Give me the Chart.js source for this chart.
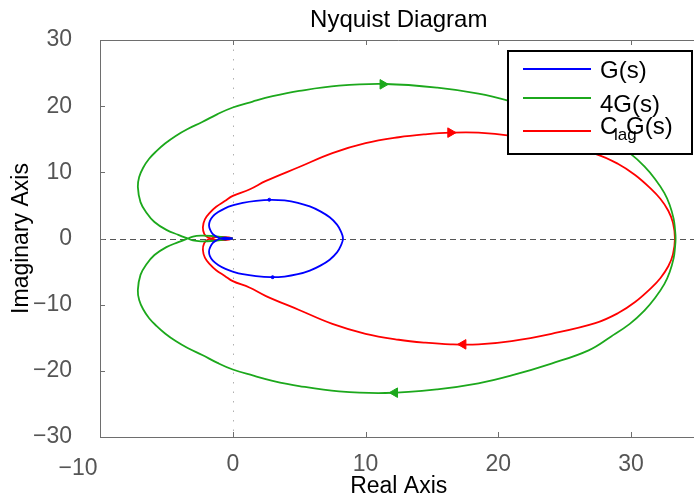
<!DOCTYPE html>
<html>
<head>
<meta charset="utf-8">
<script src="https://cdn.jsdelivr.net/npm/chart.js@4.4.1/dist/chart.umd.min.js"></script>
<style>
  html, body { margin: 0; padding: 0; background: #fff; overflow: hidden; }
  #wrap { width: 704px; height: 501px; }
</style>
</head>
<body>
<div id="wrap"><canvas id="nyq" width="704" height="501"></canvas></div>
<script>
// curves, listed in drawing order (closed loops)
const blueRe = [0, -0.4, -0.7, -0.93, -1.25, -1.5, -1.7, -1.79, -1.72, -1.5, -1.1, -0.55, 0, 0.75, 1.75, 2.85, 3.9, 4.9, 5.8, 6.6, 7.3, 7.85, 8.15, 8.3,
  8.15, 7.85, 7.3, 6.6, 5.8, 4.9, 3.9, 2.85, 1.75, 0.75, 0, -0.55, -1.1, -1.5, -1.72, -1.79, -1.7, -1.5, -1.25, -0.93, -0.7, -0.4, 0];
const blueIm = [0, -0.1, -0.1, 0, 0.3, 0.65, 1.3, 1.95, 2.65, 3.35, 4.0, 4.6, 5.0, 5.4, 5.7, 5.85, 5.75, 5.4, 4.85, 4.1, 3.2, 2.1, 1.05, 0,
  -1.05, -2.1, -3.2, -4.1, -4.85, -5.4, -5.75, -5.85, -5.7, -5.4, -5.0, -4.6, -4.0, -3.35, -2.65, -1.95, -1.3, -0.65, -0.3, 0, 0.1, 0.1, 0];

const greenRe = [0, -0.8, -1.6, -2.4, -3.0, -3.4, -4.1, -5.0, -5.9, -6.5, -6.95, -7.15, -7.05, -6.75, -6.3, -5.75, -5.1, -4.3, -3.4, -2.3, -1.15, 0, 1.5, 3, 5, 8, 11.5, 15.4, 18.5, 21, 24, 26.8, 28.5, 29.9, 31.0, 31.8, 32.5, 32.9, 33.2, 33.3, 33.35,
  33.3, 33.2, 32.9, 32.5, 31.8, 31.0, 29.9, 28.5, 26.8, 24, 21, 18.5, 15.4, 11.5, 8, 5, 3, 1.5, 0, -1.15, -2.3, -3.4, -4.3, -5.1, -5.75, -6.3, -6.75, -7.05, -7.15, -6.95, -6.5, -5.9, -5.0, -4.1, -3.4, -3.0, -2.4, -1.6, -0.8, 0];
const greenIm = [0, -0.2, -0.38, -0.42, -0.3, 0, 0.55, 1.3, 2.5, 3.9, 5.5, 7.8, 9.3, 10.7, 12.05, 13.2, 14.35, 15.5, 16.55, 17.6, 18.8, 19.8, 20.7, 21.5, 22.3, 23.1, 23.35, 22.8, 21.9, 20.7, 18.9, 16.9, 14.8, 12.9, 10.9, 9.0, 6.9, 5.1, 3.0, 1.5, 0,
  -1.5, -3.0, -5.1, -6.9, -9.0, -10.9, -12.9, -14.8, -16.9, -18.9, -20.7, -21.9, -22.8, -23.35, -23.1, -22.3, -21.5, -20.7, -19.8, -18.8, -17.6, -16.55, -15.5, -14.35, -13.2, -12.05, -10.7, -9.3, -7.8, -5.5, -3.9, -2.5, -1.3, -0.55, 0, 0.3, 0.42, 0.38, 0.2, 0];

const redRe = [0, -0.3, -0.8, -1.3, -1.6, -1.9, -2.15, -2.25, -2.1, -1.7, -1.25, -0.6, 0, 1.25, 2.5, 5, 7.5, 10, 12.5, 14.5, 16.4, 18.5, 21, 24, 27.3, 29.0, 30.3, 31.5, 32.2, 32.8, 33.15, 33.3,
  33.15, 32.8, 32.2, 31.5, 30.3, 29.0, 27.3, 24, 21, 18.5, 16.4, 14.5, 12.5, 10, 7.5, 5, 2.5, 1.25, 0, -0.6, -1.25, -1.7, -2.1, -2.25, -2.15, -1.9, -1.6, -1.3, -0.8, -0.3, 0];
const redIm = [0, -0.15, -0.25, -0.2, 0, 0.2, 0.7, 1.7, 2.9, 3.95, 4.8, 5.65, 6.45, 7.4, 8.7, 10.8, 12.9, 14.4, 15.3, 15.75, 16.0, 16.0, 15.5, 14.4, 12.8, 11.3, 9.6, 7.5, 6.0, 4.2, 2.4, 0,
  -2.4, -4.2, -6.0, -7.5, -9.6, -11.3, -12.8, -14.4, -15.5, -16.0, -16.0, -15.75, -15.3, -14.4, -12.9, -10.8, -8.7, -7.4, -6.45, -5.65, -4.8, -3.95, -2.9, -1.7, -0.7, -0.2, 0, 0.2, 0.25, 0.15, 0];

// direction arrows
const greenArrowRe = [11.3, 12.2];
const greenArrowIm = [23.3, -23.3];
const redArrowRe = [16.4, 17.35];
const redArrowIm = [16.0, -16.0];
const blueArrowRe = [2.75, 3.0];
const blueArrowIm = [5.86, -5.84];
const arrowTurn = [90, -90];

const xTicks = [-10, 0, 10, 20, 30];
const yTicks = [-30, -20, -10, 0, 10, 20, 30];
const legendLabels = ["G(s)", "4G(s)", "C", "lag", "G(s)"];

const FONT = '"Liberation Sans", Arial, sans-serif';
const GREEN = "#1ca81c";
const pts = (re, im) => re.map((x, i) => ({ x: x, y: im[i] }));
const minus = v => String(v).replace("-", "\u2212");

const curve = (label, re, im, color) => ({
  label: label,
  data: pts(re, im),
  borderColor: color,
  borderWidth: 1.8,
  pointRadius: 0,
  tension: 0.4,
  fill: false
});

const arrows = (re, im, color, style, r) => ({
  data: pts(re, im),
  showLine: false,
  pointStyle: style,
  pointRadius: r,
  pointRotation: arrowTurn,
  backgroundColor: color,
  borderColor: color,
  borderWidth: 1
});

// reference lines, inward ticks, top border, corner label, title, legend
const decor = {
  id: "decor",
  beforeDatasetsDraw(chart) {
    const { ctx, chartArea: a, scales: { x, y } } = chart;
    ctx.save();
    ctx.lineWidth = 1;
    ctx.strokeStyle = "#b0b0b0";
    ctx.setLineDash([1.5, 8]);
    ctx.beginPath();
    ctx.moveTo(Math.round(x.getPixelForValue(0)) + 0.5, a.top);
    ctx.lineTo(Math.round(x.getPixelForValue(0)) + 0.5, a.bottom);
    ctx.stroke();
    ctx.strokeStyle = "#555";
    ctx.setLineDash([6, 4]);
    ctx.beginPath();
    ctx.moveTo(a.left, Math.round(y.getPixelForValue(0)) + 0.5);
    ctx.lineTo(a.right, Math.round(y.getPixelForValue(0)) + 0.5);
    ctx.stroke();
    ctx.restore();
  },
  afterDraw(chart) {
    const { ctx, chartArea: a, scales: { x, y } } = chart;
    ctx.save();
    ctx.strokeStyle = "#6e6e6e";
    ctx.lineWidth = 1;
    ctx.beginPath();
    ctx.moveTo(a.left, a.top + 0.5);
    ctx.lineTo(a.right, a.top + 0.5);
    xTicks.forEach(v => {
      const px = Math.round(x.getPixelForValue(v)) + 0.5;
      ctx.moveTo(px, a.bottom); ctx.lineTo(px, a.bottom - 5);
      ctx.moveTo(px, a.top); ctx.lineTo(px, a.top + 5);
    });
    yTicks.forEach(v => {
      const py = Math.round(y.getPixelForValue(v)) + 0.5;
      ctx.moveTo(a.left, py); ctx.lineTo(a.left + 5, py);
    });
    ctx.stroke();

    ctx.fillStyle = "#555";
    ctx.font = "23px " + FONT;
    ctx.textAlign = "center";
    ctx.textBaseline = "alphabetic";
    ctx.fillText(minus(xTicks[0]), a.left - 22, 475);

    ctx.fillStyle = "#000";
    ctx.font = "24px " + FONT;
    ctx.fillText("Nyquist Diagram", (a.left + a.right) / 2, 27);

    // legend
    const lx = 508, ly = 51, lw = 184, lh = 103;
    ctx.fillStyle = "#fff";
    ctx.fillRect(lx, ly, lw, lh);
    ctx.strokeStyle = "#000";
    ctx.lineWidth = 2;
    ctx.strokeRect(lx, ly, lw, lh);
    const rows = [[69, "#0000ff"], [98, GREEN], [131, "#ff0000"]];
    ctx.lineWidth = 1.8;
    rows.forEach(([yy, c]) => {
      ctx.strokeStyle = c;
      ctx.beginPath();
      ctx.moveTo(523, yy); ctx.lineTo(591, yy);
      ctx.stroke();
    });
    ctx.fillStyle = "#000";
    ctx.textAlign = "left";
    ctx.font = "24px " + FONT;
    ctx.fillText(legendLabels[0], 600, 78);
    ctx.fillText(legendLabels[1], 600, 112);
    ctx.fillText(legendLabels[2], 600, 134);
    ctx.fillText(legendLabels[4], 626, 134);
    ctx.font = "17px " + FONT;
    ctx.fillText(legendLabels[3], 614, 140);
    ctx.restore();
  }
};

new Chart(document.getElementById("nyq"), {
  type: "line",
  data: {
    datasets: [
      curve("G(s)", blueRe, blueIm, "#0000ff"),
      curve("4G(s)", greenRe, greenIm, GREEN),
      curve("ClagG(s)", redRe, redIm, "#ff0000"),
      arrows(greenArrowRe, greenArrowIm, GREEN, "triangle", 5.5),
      arrows(redArrowRe, redArrowIm, "#ff0000", "triangle", 5.5),
      arrows(blueArrowRe, blueArrowIm, "#0000ff", "circle", 1.5)
    ]
  },
  options: {
    responsive: false,
    animation: false,
    events: [],
    layout: { padding: { top: 40, right: 0, bottom: 0, left: 0 } },
    plugins: { legend: { display: false }, tooltip: { enabled: false }, title: { display: false } },
    scales: {
      x: {
        type: "linear",
        min: -10,
        max: 35,
        afterFit: s => { s.height = 64; },
        grid: { display: false },
        border: { display: true, color: "#6e6e6e", width: 1 },
        ticks: {
          stepSize: 10,
          includeBounds: false,
          padding: 6,
          color: "#555",
          font: { family: FONT, size: 23 },
          callback: v => (v === xTicks[0] ? "" : minus(v))
        },
        title: { display: true, text: "Real Axis", color: "#000", font: { family: FONT, size: 23 }, padding: { top: 0, bottom: 1 } }
      },
      y: {
        type: "linear",
        min: -30,
        max: 30,
        afterFit: s => { s.width = 100; },
        grid: { display: false },
        border: { display: true, color: "#6e6e6e", width: 1 },
        ticks: {
          stepSize: 10,
          padding: 20,
          color: "#555",
          font: { family: FONT, size: 23 },
          callback: v => minus(v)
        },
        title: { display: true, text: "Imaginary Axis", color: "#000", font: { family: FONT, size: 23 }, padding: { top: 8, bottom: 0 } }
      }
    }
  },
  plugins: [decor]
});
</script>
</body>
</html>
